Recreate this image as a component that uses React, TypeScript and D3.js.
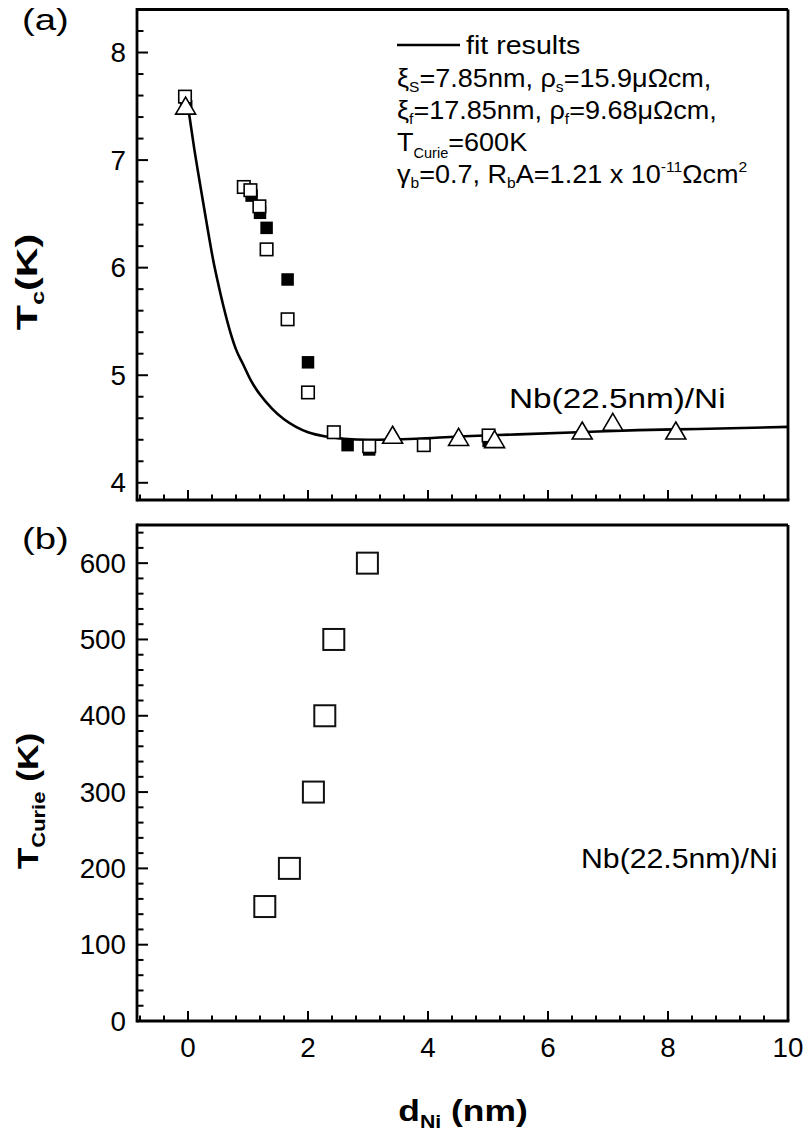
import React from "react";
import * as d3 from "d3";

// ---------- data ----------
const xMajorTicks = [0, 2, 4, 6, 8, 10];
const topYMajorTicks = [4, 5, 6, 7, 8];
const bottomYMajorTicks = [0, 100, 200, 300, 400, 500, 600];

// panel (a): open squares
const openSqX = [-0.05, 0.93, 1.04, 1.19, 1.31, 1.66, 2.0, 2.43, 3.02, 3.93, 5.01];
const openSqY = [7.59, 6.75, 6.72, 6.57, 6.17, 5.52, 4.84, 4.47, 4.34, 4.35, 4.44];
// panel (a): filled squares
const filledSqX = [-0.03, 1.06, 1.2, 1.31, 1.66, 2.0, 2.66, 3.02, 5.01];
const filledSqY = [7.5, 6.67, 6.51, 6.37, 5.89, 5.12, 4.35, 4.31, 4.39];
// panel (a): open triangles
const triX = [-0.04, 3.41, 4.51, 5.11, 6.57, 7.08, 8.13];
const triY = [7.48, 4.42, 4.4, 4.38, 4.46, 4.54, 4.46];
// panel (a): fit curve
const fitX = [0, 0.1, 0.2, 0.3, 0.42, 0.5, 0.6, 0.7, 0.8, 0.92, 1.05, 1.2, 1.4, 1.6, 1.8, 2.0, 2.3, 2.6, 3.0, 3.8, 4.5, 5.5, 6.5, 7.5, 8.5, 10];
const fitY = [7.5, 7.12, 6.78, 6.45, 6.07, 5.86, 5.62, 5.41, 5.24, 5.1, 4.95, 4.82, 4.69, 4.59, 4.52, 4.47, 4.43, 4.41, 4.4, 4.41, 4.43, 4.45, 4.47, 4.49, 4.5, 4.52];

// panel (b): Curie temperature
const curieX = [1.28, 1.69, 2.09, 2.28, 2.43, 2.99];
const curieY = [150, 200, 300, 400, 500, 600];

const FONT = "'Liberation Sans', Arial, Helvetica, sans-serif";

type TProps = {
  x: number;
  y: number;
  size: number;
  sx?: number;
  anchor?: "start" | "middle" | "end";
  bold?: boolean;
  rotate?: number;
  children: React.ReactNode;
};

function T({ x, y, size, sx = 1, anchor = "start", bold = false, rotate = 0, children }: TProps) {
  return (
    <text
      transform={`translate(${x},${y}) rotate(${rotate}) scale(${sx},1)`}
      textAnchor={anchor}
      fontSize={size}
      fontFamily={FONT}
      fontWeight={bold ? "bold" : "normal"}
      fill="#000"
    >
      {children}
    </text>
  );
}

export default function App() {
  const W = 809, H = 1138;
  const left = 137, right = 788;
  const x = d3.scaleLinear().domain([-0.85, 10]).range([left, right]);
  const yTop = d3.scaleLinear().domain([3.84, 8.4]).range([500, 9.5]);
  const yBot = d3.scaleLinear().domain([0, 650]).range([1021, 525]);

  const xMinor = d3.range(-2, 26).filter((i) => i % 5 !== 0).map((i) => i * 0.4);
  const topYMinor = d3.range(20, 42).filter((i) => i % 5 !== 0).map((i) => i * 0.2);
  const botYMinor = d3.range(0, 33).filter((i) => i % 5 !== 0).map((i) => i * 20);

  const line = d3
    .line<number>()
    .x((_, i) => x(fitX[i]))
    .y((d) => yTop(d))
    .curve(d3.curveMonotoneX);

  const sqS = 12.5;
  const bigS = 21;
  const triW = 20, triH = 17;
  const triPath = (cx: number, cy: number) =>
    `M${cx},${cy - (triH * 2) / 3}L${cx + triW / 2},${cy + triH / 3}L${cx - triW / 2},${cy + triH / 3}Z`;

  const axisW = 2.8;
  const tickFont = 27;
  const tickSx = 1.03;

  const panelFrame = (y0: number, y1: number) => (
    <g>
      <line x1={left} x2={right} y1={y0} y2={y0} stroke="#000" strokeWidth={axisW} />
      <line x1={right} x2={right} y1={y0} y2={y1} stroke="#000" strokeWidth={axisW} />
      <line x1={left} x2={left} y1={y0 - axisW / 2} y2={y1 + axisW / 2} stroke="#000" strokeWidth={axisW} />
      <line x1={left} x2={right + axisW / 2} y1={y1} y2={y1} stroke="#000" strokeWidth={axisW} />
    </g>
  );

  const xTicks = (yAxis: number, labels: boolean) => (
    <g>
      {xMajorTicks.map((t) => (
        <line key={"M" + t} x1={x(t)} x2={x(t)} y1={yAxis} y2={yAxis - 10} stroke="#000" strokeWidth={2} />
      ))}
      {xMinor.map((t) => (
        <line key={"m" + t} x1={x(t)} x2={x(t)} y1={yAxis} y2={yAxis - 5.5} stroke="#000" strokeWidth={2} />
      ))}
      {labels &&
        xMajorTicks.map((t) => (
          <T key={"L" + t} x={x(t)} y={yAxis + 36} size={tickFont} sx={tickSx} anchor="middle">
            {t}
          </T>
        ))}
    </g>
  );

  const yTicks = (scale: d3.ScaleLinear<number, number>, major: number[], minor: number[]) => (
    <g>
      {major.map((t) => (
        <line key={"M" + t} x1={left} x2={left + 11} y1={scale(t)} y2={scale(t)} stroke="#000" strokeWidth={2} />
      ))}
      {minor.map((t) => (
        <line key={"m" + t} x1={left} x2={left + 6.5} y1={scale(t)} y2={scale(t)} stroke="#000" strokeWidth={2} />
      ))}
      {major.map((t) => (
        <T key={"L" + t} x={left - 11} y={scale(t) + 9.5} size={tickFont} sx={tickSx} anchor="end">
          {t}
        </T>
      ))}
    </g>
  );

  const lf = 26; // legend font
  const ls = 15; // legend sub font
  const lsx = 1.04;
  const lx = 397;

  return (
    <svg
      width={W}
      height={H}
      viewBox={`0 0 ${W} ${H}`}
      style={{ position: "absolute", left: 0, top: 0, background: "#fff" }}
      fontFamily={FONT}
    >
      <rect x={0} y={0} width={W} height={H} fill="#fff" />

      {/* ---------- panel (a) ---------- */}
      <T x={22} y={30} size={29} sx={1.32}>(a)</T>
      {panelFrame(9.5, 500)}
      {xTicks(500, false)}
      {yTicks(yTop, topYMajorTicks, topYMinor)}

      <path d={line(fitY) || ""} fill="none" stroke="#000" strokeWidth={2.6} />

      {filledSqX.map((v, i) => (
        <rect key={"f" + i} x={x(v) - sqS / 2} y={yTop(filledSqY[i]) - sqS / 2} width={sqS} height={sqS} fill="#000" />
      ))}
      {openSqX.map((v, i) => (
        <rect
          key={"o" + i}
          x={x(v) - sqS / 2}
          y={yTop(openSqY[i]) - sqS / 2}
          width={sqS}
          height={sqS}
          fill="#fff"
          stroke="#000"
          strokeWidth={1.6}
        />
      ))}
      {triX.map((v, i) => (
        <path key={"t" + i} d={triPath(x(v), yTop(triY[i]))} fill="#fff" stroke="#000" strokeWidth={1.6} />
      ))}

      {/* legend */}
      <line x1={lx} x2={460} y1={45} y2={45} stroke="#000" strokeWidth={2.6} />
      <T x={466} y={54} size={lf} sx={1.1}>fit results</T>
      <T x={lx} y={87} size={lf} sx={lsx}>
        ξ<tspan fontSize={ls} dy={5}>S</tspan>
        <tspan dy={-5}>=7.85nm, ρ</tspan>
        <tspan fontSize={ls} dy={5}>s</tspan>
        <tspan dy={-5}>=15.9μΩcm,</tspan>
      </T>
      <T x={lx} y={119} size={lf} sx={lsx}>
        ξ<tspan fontSize={ls} dy={5}>f</tspan>
        <tspan dy={-5}>=17.85nm, ρ</tspan>
        <tspan fontSize={ls} dy={5}>f</tspan>
        <tspan dy={-5}>=9.68μΩcm,</tspan>
      </T>
      <T x={lx} y={151} size={lf} sx={lsx}>
        T<tspan fontSize={ls - 1} dy={7}>Curie</tspan>
        <tspan dy={-7}>=600K</tspan>
      </T>
      <T x={lx} y={183} size={lf} sx={lsx}>
        γ<tspan fontSize={ls} dy={5}>b</tspan>
        <tspan dy={-5}>=0.7, R</tspan>
        <tspan fontSize={ls} dy={5}>b</tspan>
        <tspan dy={-5}>A=1.21 x 10</tspan>
        <tspan fontSize={ls} dy={-11}>-11</tspan>
        <tspan dy={11}>Ωcm</tspan>
        <tspan fontSize={ls} dy={-11}>2</tspan>
      </T>

      <T x={509} y={408} size={28} sx={1.19}>Nb(22.5nm)/Ni</T>

      {/* y-axis title (a) */}
      <T x={37} y={282} size={29} sx={1.42} rotate={-90} anchor="middle" bold>
        T<tspan fontSize={18} dy={7}>c</tspan>
        <tspan dy={-7}>(K)</tspan>
      </T>

      {/* ---------- panel (b) ---------- */}
      <T x={22} y={549} size={29} sx={1.32}>(b)</T>
      {panelFrame(525, 1021)}
      {xTicks(1021, true)}
      {yTicks(yBot, bottomYMajorTicks, botYMinor)}

      {curieX.map((v, i) => (
        <rect
          key={"c" + i}
          x={x(v) - bigS / 2}
          y={yBot(curieY[i]) - bigS / 2}
          width={bigS}
          height={bigS}
          fill="#fff"
          stroke="#111"
          strokeWidth={2}
        />
      ))}

      <T x={581} y={868} size={28} sx={1.08}>Nb(22.5nm)/Ni</T>

      <T x={38} y={801} size={29} sx={1.22} rotate={-90} anchor="middle" bold>
        T<tspan fontSize={18} dy={7}>Curie</tspan>
        <tspan dy={-7}> (K)</tspan>
      </T>

      {/* x-axis title */}
      <T x={463} y={1121} size={30} sx={1.18} anchor="middle" bold>
        d<tspan fontSize={18} dy={7}>Ni</tspan>
        <tspan dy={-7}> (nm)</tspan>
      </T>
    </svg>
  );
}
